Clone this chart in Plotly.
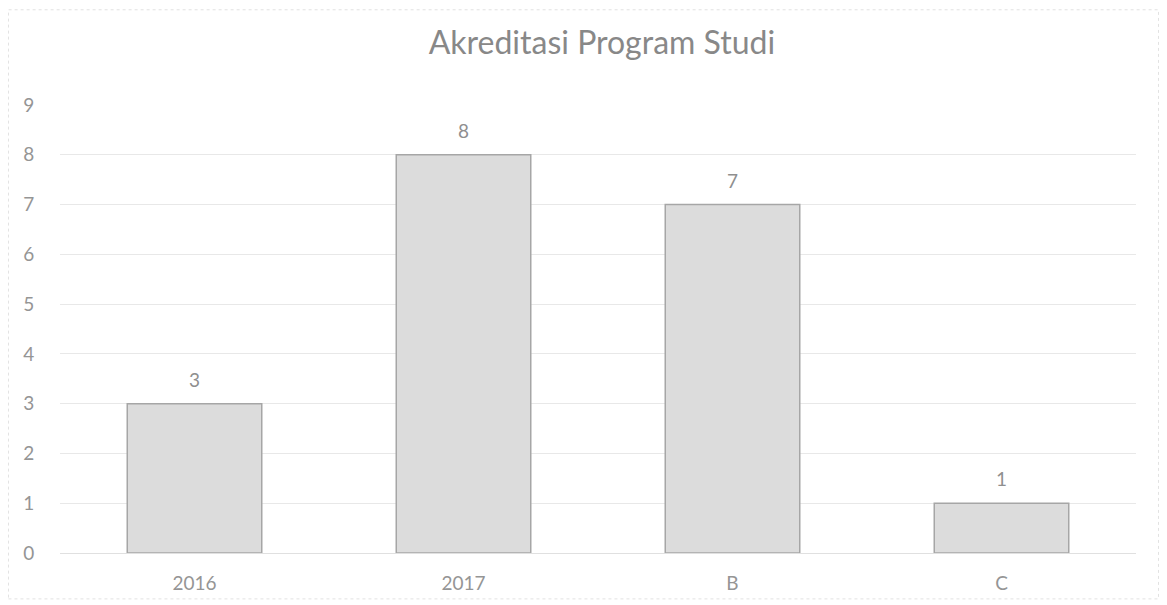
import plotly.graph_objects as go

categories = ["2016", "2017", "B", "C"]
values = [3, 8, 7, 1]
y_ticks = [0, 1, 2, 3, 4, 5, 6, 7, 8, 9]

fig = go.Figure()
fig.add_trace(go.Bar(
    x=categories, y=values,
    marker=dict(color="#dcdcdc", line=dict(color="#a6a6a6", width=1.5)),
    cliponaxis=False,
))
for i, v in enumerate(values):
    fig.add_annotation(x=i, y=v, text=str(v), showarrow=False, yanchor="bottom", yshift=11,
                       font=dict(size=19, color="#8f8f8f", family="Lato"))

H = 598
T = 97
PH = 454
fig.update_layout(
    width=1151, height=H,
    margin=dict(l=52, r=23, t=T, b=H - T - PH),
    paper_bgcolor="white", plot_bgcolor="white",
    bargap=0.5,
    showlegend=False,
    font=dict(family="Lato", color="#8f8f8f"),
    title=dict(text="Akreditasi Program Studi", x=0.516, xanchor="center", y=1 - 34.6 / H, yanchor="middle",
               font=dict(size=32, color="#888888", family="Lato")),
    xaxis=dict(type="category", range=[-0.5, len(categories) - 0.5], showgrid=False, showline=True,
               linecolor="#e0e0e0", linewidth=1,
               ticks="outside", ticklen=13, tickcolor="rgba(0,0,0,0)",
               tickfont=dict(size=19, color="#959595")),
    yaxis=dict(range=[0, 9], tickvals=y_ticks, showgrid=True, gridcolor="#e8e8e8", gridwidth=1,
               zeroline=False, ticks="outside", ticklen=21, tickcolor="rgba(0,0,0,0)",
               tickfont=dict(size=19, color="#959595")),
    shapes=[dict(type="rect", xref="paper", yref="paper", x0=-0.0479, x1=1.0209,
                 y0=(T + PH - (H - 0.5)) / PH, y1=(T + PH - 0.5) / PH,
                 line=dict(color="#e2e2e2", width=1, dash="dot"))],
)
fig.write_html("out.html")
